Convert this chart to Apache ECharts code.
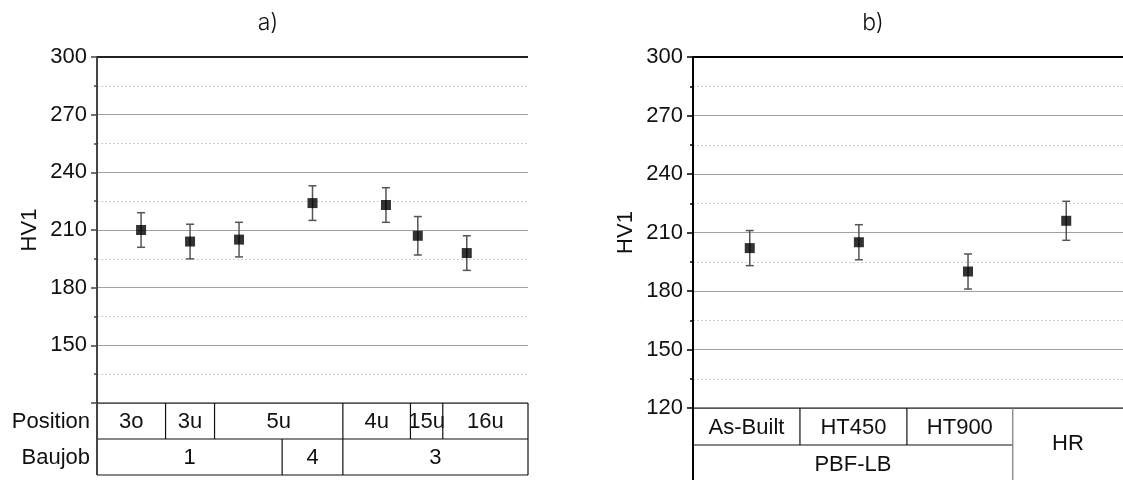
<!DOCTYPE html>
<html><head><meta charset="utf-8">
<script src="https://cdn.jsdelivr.net/npm/echarts@6/dist/echarts.min.js"></script>
<style>html,body{margin:0;padding:0;background:#fff}#c{width:1123px;height:480px}</style>
</head><body><div id="c"></div>
<script>
// ---- panel a) data ----
const slotA = [1, 2, 3, 4.5, 6, 6.65, 7.65];     // x slot of each sample
const meanA = [210, 204, 205, 224, 223, 207, 198];
const errA  = [9, 9, 9, 9, 9, 10, 9];
const posCells = ['3o', '3u', '5u', '4u', '15u', '16u'];
const posBounds = [0.1, 1.5, 2.5, 5.12, 6.5, 7.16, 8.9];
const jobCells = ['1', '4', '3'];
const jobBounds = [0.1, 3.88, 5.12, 8.9];
// ---- panel b) data ----
const catB  = ['As-Built', 'HT450', 'HT900', 'HR'];
const slotB = [1, 2, 3, 3.9];
const meanB = [202, 205, 190, 216];
const errB  = [9, 9, 9, 10];
const boundsB = [0.48, 1.46, 2.44, 3.41, 4.42];
const groupB = 'PBF-LB';
// ---- axes ----
const yMin = 120, yMax = 300, yStep = 30;
const titles = ['a)', 'b)'];
const yName = 'HV1';

const F = "'Liberation Sans', Arial, sans-serif";
const FS = 22;
const chart = echarts.init(document.getElementById('c'));

function errSeries(gi, slots, means, errs, col) {
  return {
    type: 'custom', xAxisIndex: gi, yAxisIndex: gi, z: 3,
    data: slots.map((s, i) => [s, means[i] - errs[i], means[i] + errs[i]]),
    renderItem(params, api) {
      const lo = api.coord([api.value(0), api.value(1)]);
      const hi = api.coord([api.value(0), api.value(2)]);
      const w = 4, st = {stroke: col, lineWidth: 1.5};
      return {type: 'group', children: [
        {type: 'line', shape: {x1: hi[0], y1: hi[1], x2: lo[0], y2: lo[1]}, style: st},
        {type: 'line', shape: {x1: hi[0] - w, y1: hi[1], x2: hi[0] + w, y2: hi[1]}, style: st},
        {type: 'line', shape: {x1: lo[0] - w, y1: lo[1], x2: lo[0] + w, y2: lo[1]}, style: st}
      ]};
    }
  };
}
function ptSeries(gi, slots, means) {
  return {type: 'scatter', xAxisIndex: gi, yAxisIndex: gi, z: 5, symbol: 'rect', symbolSize: 10,
    itemStyle: {color: '#000'}, data: slots.map((s, i) => [s, means[i]])};
}
function yAx(gi, showMin, axCol) {
  return {
    type: 'value', gridIndex: gi, min: yMin, max: yMax, interval: yStep,
    name: yName, nameLocation: 'middle', nameGap: 56,
    nameTextStyle: {fontSize: FS, color: '#111', fontFamily: F},
    axisLine: {show: true, lineStyle: {color: axCol, width: 2}},
    axisTick: {show: true, length: 6, lineStyle: {color: axCol, width: 1.5}},
    minorTick: {show: true, splitNumber: 2, length: 3, lineStyle: {color: axCol, width: 1.5}},
    axisLabel: {fontSize: FS, color: '#111', margin: 10, fontFamily: F,
      formatter: v => (v === yMin && !showMin) ? '' : String(v)},
    splitLine: {show: true, lineStyle: {color: '#a0a0a0', width: 1}},
    minorSplitLine: {show: true, lineStyle: {color: '#cccccc', width: 1, type: [2, 2]}}
  };
}
function xAx(gi, min, max) {
  return {type: 'value', gridIndex: gi, min: min, max: max, show: false,
    splitLine: {show: false}};
}

chart.setOption({
  animation: false,
  grid: [
    {left: 97, top: 57, width: 431, height: 346},
    {left: 693, top: 57, width: 430, height: 351}
  ],
  xAxis: [xAx(0, posBounds[0], posBounds[posBounds.length - 1]), xAx(1, boundsB[0], boundsB[boundsB.length - 1])],
  yAxis: [yAx(0, false, '#444'), yAx(1, true, '#000')],
  series: [
    errSeries(0, slotA, meanA, errA, '#555'), ptSeries(0, slotA, meanA),
    errSeries(1, slotB, meanB, errB, '#555'), ptSeries(1, slotB, meanB)
  ]
});

// ---- tables, frame lines and titles ----
const G = [];
const P = (gi, x, y) => chart.convertToPixel({gridIndex: gi}, [x, y]);
function line(x1, y1, x2, y2, col, w) {
  G.push({type: 'line', z: 10, shape: {x1, y1, x2, y2}, style: {stroke: col || '#111', lineWidth: w || 1.2}});
}
function text(t, x, y, align, size, fam, weight) {
  G.push({type: 'text', z: 11, x, y, style: {text: t, x: 0, y: 0, align: align || 'center', verticalAlign: 'middle',
    fontSize: size || FS, fontFamily: fam || F, fontWeight: weight || 'normal', fill: '#111'}});
}
// panel a
{
  const xl = P(0, posBounds[0], yMin)[0], xr = P(0, posBounds[posBounds.length - 1], yMin)[0];
  const top = P(0, posBounds[0], yMax)[1], y0 = P(0, posBounds[0], yMin)[1];
  const rh = 36, y1 = y0 + rh, y2 = y0 + 2 * rh;
  line(xl, top, xr, top, '#222', 2);
  line(xl, y0, xr, y0); line(xl, y1, xr, y1); line(xl, y2, xr, y2);
  line(xl, y0, xl, y2, '#444', 2); line(xr, y0, xr, y2);
  for (let i = 1; i < posBounds.length - 1; i++) { const x = P(0, posBounds[i], yMin)[0]; line(x, y0, x, y1); }
  for (let i = 1; i < jobBounds.length - 1; i++) { const x = P(0, jobBounds[i], yMin)[0]; line(x, y1, x, y2); }
  posCells.forEach((c, i) => { const a = P(0, posBounds[i], yMin)[0], b = P(0, posBounds[i + 1], yMin)[0]; text(c, (a + b) / 2, y0 + rh / 2 + 1); });
  jobCells.forEach((c, i) => { const a = P(0, jobBounds[i], yMin)[0], b = P(0, jobBounds[i + 1], yMin)[0]; text(c, (a + b) / 2, y1 + rh / 2 + 1); });
  text('Position', xl - 7, y0 + rh / 2 + 1, 'right');
  text('Baujob', xl - 7, y1 + rh / 2 + 1, 'right');
  text(titles[0], 268, 23, 'center', 23, "Inter, 'DejaVu Sans', sans-serif", 300);
}
// panel b
{
  const xl = P(1, boundsB[0], yMin)[0], xr = P(1, boundsB[boundsB.length - 1], yMin)[0];
  const top = P(1, boundsB[0], yMax)[1], y0 = P(1, boundsB[0], yMin)[1];
  const rh = 37, y1 = y0 + rh, y2 = y0 + 2 * rh;
  const xhr = P(1, boundsB[3], yMin)[0];
  line(xl, top, xr, top, '#000', 2);
  line(xl, y0, xr, y0);
  line(xl, y1, xhr, y1);
  line(xl, y0, xl, 480, '#000', 2);
  line(xhr, y0, xhr, 480, '#777', 1.2);
  for (let i = 1; i < 3; i++) { const x = P(1, boundsB[i], yMin)[0]; line(x, y0, x, y1); }
  for (let i = 0; i < 3; i++) { const a = P(1, boundsB[i], yMin)[0], b = P(1, boundsB[i + 1], yMin)[0]; text(catB[i], (a + b) / 2, y0 + rh / 2 + 1); }
  text(groupB, (xl + xhr) / 2, y1 + rh / 2 + 1);
  text(catB[3], (xhr + xr) / 2, y0 + rh - 1);
  text(titles[1], 873, 23, 'center', 23, "Inter, 'DejaVu Sans', sans-serif", 300);
}
chart.setOption({graphic: G});
</script>
</body></html>
